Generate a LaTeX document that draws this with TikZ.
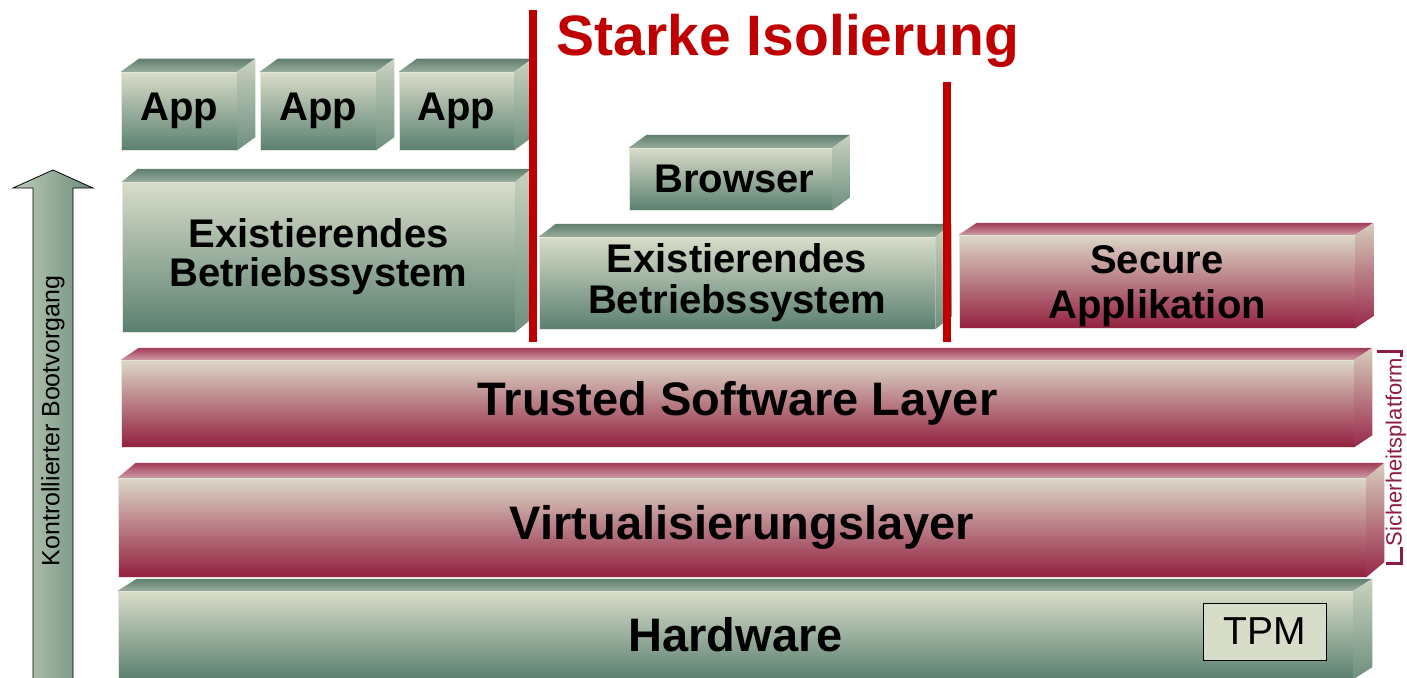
\documentclass[tikz,border=0pt]{standalone}
\usepackage{fontspec}
\setmainfont{Liberation Sans}
\usetikzlibrary{calc}

% colour schemes: g = grey-green boxes, r = crimson boxes
\definecolor{gFrontTop}{HTML}{D8DDC9}
\definecolor{gFrontBot}{HTML}{5B8070}
\definecolor{gLidBack}{HTML}{5F7E6E}
\definecolor{gLidFront}{HTML}{98AC9C}
\definecolor{gSideTop}{HTML}{C9D2BF}
\definecolor{gSideBot}{HTML}{6E8F7E}
\definecolor{rFrontTop}{HTML}{DDD8C8}
\definecolor{rFrontBot}{HTML}{93203F}
\definecolor{rLidBack}{HTML}{A23A58}
\definecolor{rLidFront}{HTML}{CB9AA2}
\definecolor{rSideTop}{HTML}{D7CDBB}
\definecolor{rSideBot}{HTML}{98284A}
\definecolor{isoRed}{HTML}{C00000}
\definecolor{platCrimson}{HTML}{8E1B44}
\definecolor{tpmFill}{HTML}{D7DDC9}
\definecolor{faceEdge}{HTML}{E4E6DC}
\definecolor{arrowLight}{HTML}{BFCDB8}
\definecolor{arrowDark}{HTML}{6A8B7B}

% lid and right side of a block whose front face is node #1
\newcommand\cubefaces[4]{%
  \shade[top color=#2LidBack, bottom color=#2LidFront]
    (#1.north west) -- ++(#3,-#4) -- ($(#1.north east)+(#3,-#4)$) -- (#1.north east) -- cycle;
  \shade[top color=#2SideTop, bottom color=#2SideBot]
    (#1.north east) -- ++(#3,-#4) -- ($(#1.south east)+(#3,-#4)$) -- (#1.south east) -- cycle;
}

\tikzset{
  front/.style={rectangle, inner sep=0pt, align=center, text=black,
    draw=faceEdge, line width=0.5pt},
  gfront/.style={front, top color=gFrontTop, bottom color=gFrontBot},
  rfront/.style={front, top color=rFrontTop, bottom color=rFrontBot},
  boxtext/.style={font=\fontsize{40}{41}\selectfont\bfseries},
  layertext/.style={font=\fontsize{47}{50}\selectfont\bfseries},
  isoline/.style={isoRed, line width=7.5pt},
  bracketline/.style={platCrimson, line width=3pt},
}

\begin{document}
\begin{tikzpicture}[x=1pt,y=-1pt]
\useasboundingbox (0,0) rectangle (1407,677);

% controlled boot arrow
\draw[left color=arrowLight, right color=arrowDark, draw=black, line width=0.8pt]
  (53,170) -- (93,188) -- (73,188) -- (73,690) -- (33,690) -- (33,188) -- (13,188) -- cycle;
\node[rotate=90, font=\fontsize{25}{27}\selectfont] (boot) at (53,421) {Kontrollierter Bootvorgang};

% applications
\node[gfront, boxtext, minimum width=116pt, minimum height=78pt] (app1) at (179,111) {App};
\cubefaces{app1}{g}{18}{13}
\node[gfront, boxtext, minimum width=116pt, minimum height=78pt] (app2) at (318,111) {App};
\cubefaces{app2}{g}{18}{13}
\node[gfront, boxtext, minimum width=115pt, minimum height=78pt] (app3) at (456.5,111) {App};
\cubefaces{app3}{g}{18}{13}

% legacy operating system (left)
\node[gfront, boxtext, font=\fontsize{40}{39}\selectfont\bfseries, minimum width=393pt, minimum height=150pt] (os1) at (318.5,257) {Existierendes\\Betriebssystem};
\cubefaces{os1}{g}{16}{13}

% browser on legacy operating system (middle)
\node[gfront, boxtext, minimum width=203pt, minimum height=62pt] (browser) at (730.5,179) {\hspace{8pt}Browser};
\cubefaces{browser}{g}{18}{13}
\node[gfront, boxtext, minimum width=396pt, minimum height=92pt] (os2) at (737,283) {Existierendes\\Betriebssystem};
\cubefaces{os2}{g}{17}{13}

% secure application
\node[rfront, minimum width=396pt, minimum height=93pt] (secapp) at (1157,281.5) {};
\cubefaces{secapp}{r}{18}{12}
\node[boxtext, font=\fontsize{40}{45}\selectfont\bfseries, align=center, inner sep=0pt] (secapptext) at ($(secapp.center)+(0,5)$) {Secure\\Applikation};

% layers
\node[rfront, layertext, minimum width=1233pt, minimum height=87pt] (tsl) at (737.5,403.5) {Trusted Software Layer};
\cubefaces{tsl}{r}{18}{12}
\node[rfront, layertext, minimum width=1248pt, minimum height=99pt] (virt) at (742,527.5) {Virtualisierungslayer};
\cubefaces{virt}{r}{18}{15}
\node[gfront, layertext, minimum width=1235pt, minimum height=88pt] (hw) at (735.5,635) {Hardware};
\cubefaces{hw}{g}{19}{12}
\node[draw=black, line width=0.8pt, fill=tpmFill, minimum width=123pt, minimum height=57pt, inner sep=0pt, font=\fontsize{39}{40}\selectfont] (tpm) at (1264.5,631.5) {TPM};

% isolation borders
\coordinate (isoLtop) at (533,10);
\coordinate (isoLbot) at (533,342);
\coordinate (isoRtop) at (947,82);
\coordinate (isoRbot) at (947,342);
\draw[isoline] (isoLtop) -- (isoLbot);
\draw[isoline] (isoRtop) -- (isoRbot);
\node[anchor=base, text=isoRed, font=\fontsize{57}{60}\selectfont\bfseries] (title) at (788,56) {Starke Isolierung};

% security platform bracket
\coordinate (brA) at (1377,351);
\coordinate (brB) at (1401,351);
\coordinate (brC) at (1401,563);
\coordinate (brD) at (1386,563);
\draw[bracketline] (brA) -- (brB) -- (brC) -- (brD);
\node[rotate=90, fill=white, inner sep=0.5pt, text=platCrimson, font=\fontsize{22}{23}\selectfont] (plat) at (1396,452) {Sicherheitsplatform};
\end{tikzpicture}
\end{document}
